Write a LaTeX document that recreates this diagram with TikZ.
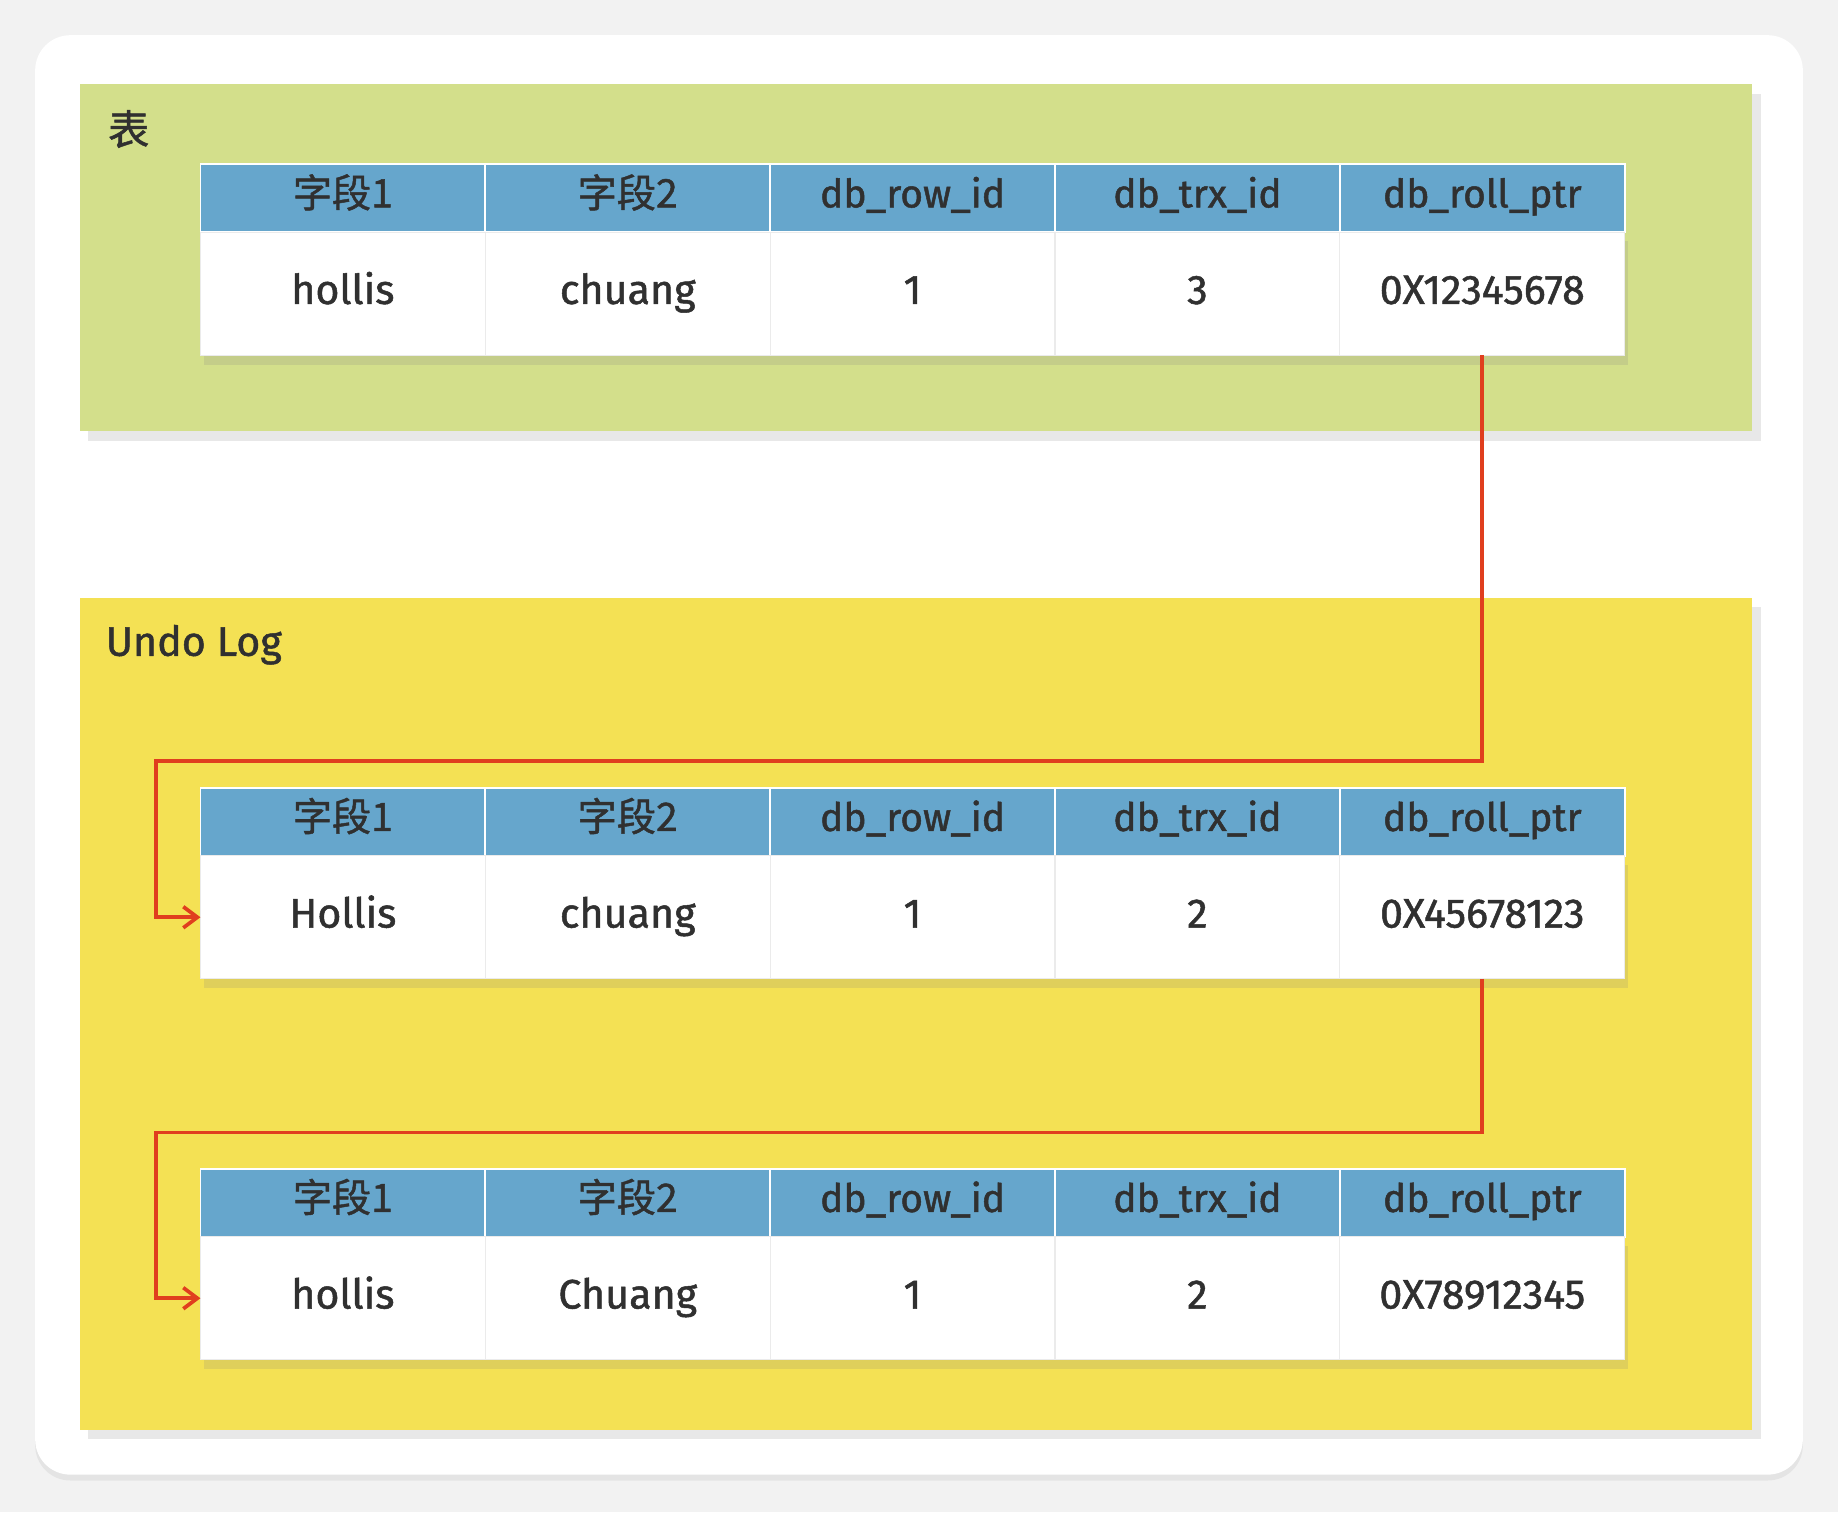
\documentclass[tikz,border=0pt]{standalone}
\usepackage{fontspec}
\setmainfont{Fira Sans}[FakeBold=1.2]
\newfontfamily\cjk{Noto Sans CJK SC}[FakeBold=1.2]
\usepackage{tikz}
\usetikzlibrary{positioning,shadows,arrows.meta}

\definecolor{pagegray}{RGB}{242,242,242}
\definecolor{tblgreen}{RGB}{211,223,139}
\definecolor{logyellow}{RGB}{244,225,84}
\definecolor{hdblue}{RGB}{102,166,204}
\definecolor{inkgray}{RGB}{48,48,48}
\definecolor{ptrred}{RGB}{224,62,30}

\begin{document}
\begin{tikzpicture}[%
  x=0.2mm,
  y=-0.2mm,
  >={Straight Barb[length=2.4mm,width=3.6mm]},
  hd/.style={
    fill=hdblue,
    draw=white,
    line width=0.8pt,
    minimum width=48.6mm,
    minimum height=11.6mm,
    inner sep=0pt,
    outer sep=0pt,
    text height=1.0em,
    text depth=0.1em,
    text=inkgray,
    font=\fontsize{19}{22}\selectfont},
  cell/.style={
    fill=white,
    draw=black!8,
    line width=0.5pt,
    minimum width=48.6mm,
    minimum height=21mm,
    inner sep=0pt,
    outer sep=0pt,
    text height=1.1em,
    text depth=0.1em,
    text=inkgray,
    font=\fontsize{20}{24}\selectfont,
    drop shadow={shadow xshift=0.6mm, shadow yshift=-1.6mm, opacity=0.18}},
  panel/.style={
    drop shadow={shadow xshift=1.4mm, shadow yshift=-1.6mm, opacity=0.18}},
  lbl/.style={
    anchor=west,
    text=inkgray,
    font=\fontsize{20}{24}\selectfont},
  ptr/.style={
    ->,
    draw=ptrred,
    line width=1.8pt}
  ]
  \useasboundingbox (0,0) rectangle (1568,1290);
  %% Page and panels
  \fill[pagegray] (0,0) rectangle (1568,1290);
  \fill[white, rounded corners=6mm,
    drop shadow={shadow xshift=0mm, shadow yshift=-1mm, opacity=0.12}]
    (30,30) rectangle (1538,1258);
  \fill[tblgreen, panel] (68,72) rectangle (1495,368);
  \fill[logyellow, panel] (68,510) rectangle (1495,1220);
  \node[lbl] (tabname) at (86,110) {\cjk 表};
  \node[lbl] (logname) at (84,550) {Undo Log};

  %% Table row
  \node[hd] (t1h1) at (292.5,169) {\cjk 字段1};
  \node[hd, right=0pt of t1h1] (t1h2) {\cjk 字段2};
  \node[hd, right=0pt of t1h2] (t1h3) {db\_row\_id};
  \node[hd, right=0pt of t1h3] (t1h4) {db\_trx\_id};
  \node[hd, right=0pt of t1h4] (t1h5) {db\_roll\_ptr};
  \node[cell, below=0pt of t1h1] (t1c1) {hollis};
  \node[cell, right=0pt of t1c1] (t1c2) {chuang};
  \node[cell, right=0pt of t1c2] (t1c3) {1};
  \node[cell, right=0pt of t1c3] (t1c4) {3};
  \node[cell, right=0pt of t1c4] (t1c5) {0X12345678};

  %% Undo log, first record
  \node[hd] (t2h1) at (292.5,701) {\cjk 字段1};
  \node[hd, right=0pt of t2h1] (t2h2) {\cjk 字段2};
  \node[hd, right=0pt of t2h2] (t2h3) {db\_row\_id};
  \node[hd, right=0pt of t2h3] (t2h4) {db\_trx\_id};
  \node[hd, right=0pt of t2h4] (t2h5) {db\_roll\_ptr};
  \node[cell, below=0pt of t2h1] (t2c1) {Hollis};
  \node[cell, right=0pt of t2c1] (t2c2) {chuang};
  \node[cell, right=0pt of t2c2] (t2c3) {1};
  \node[cell, right=0pt of t2c3] (t2c4) {2};
  \node[cell, right=0pt of t2c4] (t2c5) {0X45678123};

  %% Undo log, second record
  \node[hd] (t3h1) at (292.5,1026) {\cjk 字段1};
  \node[hd, right=0pt of t3h1] (t3h2) {\cjk 字段2};
  \node[hd, right=0pt of t3h2] (t3h3) {db\_row\_id};
  \node[hd, right=0pt of t3h3] (t3h4) {db\_trx\_id};
  \node[hd, right=0pt of t3h4] (t3h5) {db\_roll\_ptr};
  \node[cell, below=0pt of t3h1] (t3c1) {hollis};
  \node[cell, right=0pt of t3c1] (t3c2) {Chuang};
  \node[cell, right=0pt of t3c2] (t3c3) {1};
  \node[cell, right=0pt of t3c3] (t3c4) {2};
  \node[cell, right=0pt of t3c4] (t3c5) {0X78912345};

  %% Pointers
  \coordinate (bend1) at (133,649);
  \coordinate (bend2) at (133,966);
  \draw[ptr] (t1c5.south) |- (bend1) |- (t2c1.west);
  \draw[ptr] (t2c5.south) |- (bend2) |- (t3c1.west);
\end{tikzpicture}
\end{document}
